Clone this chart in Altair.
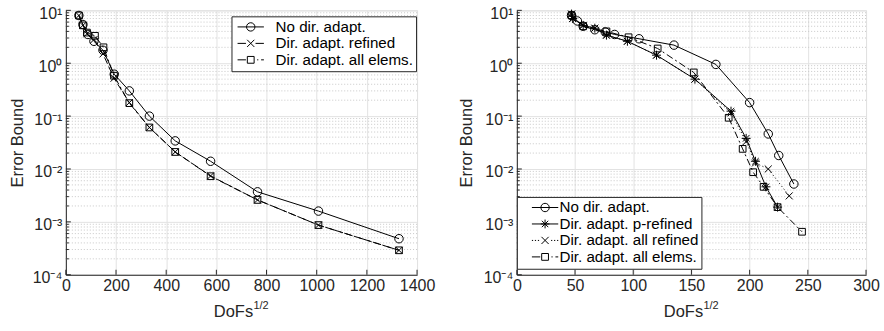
import altair as alt
import pandas as pd

# ---------------- data ----------------
# Left panel
L_NODIR_X = [52, 68, 88, 112, 148, 193, 253, 333, 436, 577, 764, 1007, 1328]
L_NODIR_Y = [8.0, 5.4, 3.5, 2.6, 1.76, 0.62, 0.30, 0.10, 0.034, 0.014, 0.0037, 0.0016, 0.00048]
L_REF_X = [52, 68, 84, 112, 148, 192, 253, 333, 436, 577, 764, 1007, 1328]
L_REF_Y = [8.0, 5.2, 3.6, 2.8, 1.5, 0.52, 0.18, 0.061, 0.021, 0.0074, 0.0026, 0.00087, 0.00029]
L_ALL_X = [52, 68, 84, 116, 150, 192, 253, 333, 436, 577, 764, 1007, 1328]
L_ALL_Y = [8.0, 5.2, 3.8, 3.3, 2.0, 0.58, 0.176, 0.061, 0.021, 0.0073, 0.0026, 0.00087, 0.00029]

# Right panel
R_NODIR_X = [47, 52, 57, 67, 76, 84, 105, 135, 171, 200, 216, 225, 238]
R_NODIR_Y = [8.0, 6.3, 5.0, 4.3, 3.9, 3.5, 2.9, 2.2, 0.95, 0.18, 0.046, 0.018, 0.0052]
R_PREF_X = [47, 48, 57, 67, 77, 95, 120, 153, 184, 197, 205, 214, 224]
R_PREF_Y = [8.5, 7.0, 5.2, 4.6, 3.4, 2.6, 1.42, 0.50, 0.124, 0.038, 0.014, 0.0046, 0.0019]
R_AREF_X = [47, 48, 57, 67, 77, 95, 120, 153, 184, 197, 205, 216, 234]
R_AREF_Y = [8.5, 7.0, 5.2, 4.6, 3.4, 2.6, 1.42, 0.50, 0.115, 0.033, 0.013, 0.010, 0.0031]
R_ALL_X = [47, 57, 77, 96, 121, 152, 182, 194, 203, 212, 224, 245]
R_ALL_Y = [8.0, 5.0, 4.0, 3.1, 1.9, 0.67, 0.093, 0.024, 0.0087, 0.0046, 0.0019, 0.00065]

L_NAMES = ["No dir. adapt.", "Dir. adapt. refined", "Dir. adapt. all elems."]
R_NAMES = ["No dir. adapt. ", "Dir. adapt. p-refined", "Dir. adapt. all refined", "Dir. adapt. all elems. "]

L_XTICKS = [0, 200, 400, 600, 800, 1000, 1200, 1400]
R_XTICKS = [0, 50, 100, 150, 200, 250, 300]
Y_TICKS = [1e-4, 1e-3, 1e-2, 1e-1, 1, 10]
Y_TICK_LABELS = ["10⁻⁴", "10⁻³", "10⁻²", "10⁻¹", "10⁰", "10¹"]
Y_MINOR = [m * 10.0 ** k for k in range(-4, 1) for m in range(2, 10)]

# ---------------- styles ----------------
FONT = "Liberation Sans"
AX = "#262626"
GRID = "#e2e2e2"
MINOR = "#c8c8c8"
W_L, W_R, H = 352, 350, 265

X_PATH = "M-1,-1L1,1M-1,1L1,-1"
AST_PATH = "M-1,0L1,0M0,-1L0,1M-0.72,-0.72L0.72,0.72M-0.72,0.72L0.72,-0.72"


# legend glyphs (line + marker); unit = 4px; glyph starts at x = s0 (never left of 0)
def leg_glyph(line, marker, s0):
    c = s0 + 3.3  # marker centre
    f = lambda v: round(v, 3)
    segs = {
        "solid": [(0, 6.6)],
        "dash": [(0, 2.1), (4.5, 6.6)],
        "dashdot": [(0, 2.1), (4.9, 5.2), (5.9, 6.6)],
        "dot": [(0, 0.3), (0.75, 1.05), (1.5, 1.8), (4.8, 5.1), (5.55, 5.85), (6.3, 6.6)],
    }[line]
    p = "".join(f"M{f(s0 + a)},0L{f(s0 + b)},0" for a, b in segs)
    if marker == "circle":
        r = 1.05
        p += f"M{f(c + r)},0A{r},{r} 0 1,1 {f(c - r)},0A{r},{r} 0 1,1 {f(c + r)},0"
    elif marker == "x":
        d = 0.9
        p += f"M{f(c - d)},{-d}L{f(c + d)},{d}M{f(c - d)},{d}L{f(c + d)},{-d}"
    elif marker == "square":
        d = 0.85
        p += f"M{f(c - d)},{-d}L{f(c + d)},{-d}L{f(c + d)},{d}L{f(c - d)},{d}Z"
    elif marker == "star":
        d, e = 1.1, 0.8
        p += (f"M{f(c - d)},0L{f(c + d)},0M{f(c)},{-d}L{f(c)},{d}"
              f"M{f(c - e)},{-e}L{f(c + e)},{e}M{f(c - e)},{e}L{f(c + e)},{-e}")
    return p


label_expr = " : ".join(
    f"datum.value >= {v * 0.5} ? '{t}'" for v, t in zip(reversed(Y_TICKS[1:]), reversed(Y_TICK_LABELS[1:]))
) + f" : '{Y_TICK_LABELS[0]}'"


def panel(series, names, leg_paths, field, xdom, xticks, width, ytitle_x, legend_kw):
    xscale = alt.Scale(domain=xdom, nice=False, zero=False)
    yscale = alt.Scale(type="log", domain=[1e-4, 10], nice=False)
    xaxis = alt.Axis(values=xticks, grid=True, gridColor=GRID, gridWidth=1, ticks=False, tickSize=0,
                     domainColor=AX, labelFont=FONT, labelFontSize=16, labelColor=AX, labelPadding=3,
                     labelOverlap=False, labelFlush=False, format="d", title="DoFs", titleFont=FONT,
                     titleFontSize=16.5, titleFontWeight="normal", titleColor=AX,
                     titleX=width / 2 - 8.5, titleY=37, titleBaseline="middle")
    yaxis = alt.Axis(values=Y_TICKS, labelExpr=label_expr, grid=True, gridColor=GRID, gridWidth=1,
                     ticks=False, tickSize=0, domainColor=AX, labelFont=FONT, labelFontSize=16,
                     labelColor=AX, labelPadding=4, labelOffset=3, labelOverlap=False, labelFlush=False,
                     title="Error Bound", titleFont=FONT,
                     titleFontSize=16.5, titleFontWeight="normal", titleColor=AX,
                     titleX=ytitle_x, titleY=H / 2, titleBaseline="middle")
    X = lambda f: alt.X(f, scale=xscale, axis=xaxis)
    Y = lambda f: alt.Y(f, scale=yscale, axis=yaxis)

    layers = []
    minor = pd.DataFrame({"v": Y_MINOR})
    major = pd.DataFrame({"v": Y_TICKS})
    xt = pd.DataFrame({"v": xticks})
    layers.append(alt.Chart(minor).mark_rule(color=MINOR, strokeDash=[1, 2], strokeWidth=1).encode(y=Y("v:Q")))
    layers.append(alt.Chart(minor).mark_rule(color=AX, strokeWidth=1).encode(
        y=Y("v:Q"), x=alt.value(0), x2=alt.value(3)))
    layers.append(alt.Chart(major).mark_rule(color=AX, strokeWidth=1).encode(
        y=Y("v:Q"), x=alt.value(0), x2=alt.value(5)))
    layers.append(alt.Chart(xt).mark_rule(color=AX, strokeWidth=1).encode(
        x=X("v:Q"), y=alt.value(H), y2=alt.value(H - 5)))

    for xs, ys, dash, shape, size in series:
        df = pd.DataFrame({"x": xs, "y": ys})
        lkw = dict(color="black", strokeWidth=1)
        if dash:
            lkw["strokeDash"] = dash
        layers.append(alt.Chart(df).mark_line(**lkw).encode(x=X("x:Q"), y=Y("y:Q"), order="x:Q"))
        layers.append(alt.Chart(df).mark_point(shape=shape, size=size, filled=False, color="black",
                                               strokeWidth=1, opacity=1).encode(x=X("x:Q"), y=Y("y:Q")))

    leg = pd.DataFrame({field: names})
    legend = alt.Legend(orient="none", direction="vertical", fillColor="white", strokeColor=AX,
                        padding=3, rowPadding=0.5, symbolSize=64, symbolStrokeWidth=1,
                        symbolStrokeColor="black", symbolFillColor="transparent", symbolOpacity=1,
                        symbolOffset=-4.5, labelFont=FONT, labelFontSize=15.2, labelColor="black",
                        labelLimit=400, **legend_kw)
    layers.append(alt.Chart(leg).mark_point(filled=False, color="black").encode(
        shape=alt.Shape(f"{field}:N", title=None, scale=alt.Scale(domain=names, range=leg_paths),
                        legend=legend)).transform_filter("false"))

    sup = pd.DataFrame({"t": ["1/2"]})
    layers.append(alt.Chart(sup).mark_text(align="left", baseline="middle", font=FONT, fontSize=11,
                                           color=AX).encode(text="t:N", x=alt.value(width / 2 + 12),
                                                            y=alt.value(296)))
    return alt.layer(*layers).properties(width=width, height=H)


left_series = [
    (L_NODIR_X, L_NODIR_Y, None, "circle", 72),
    (L_REF_X, L_REF_Y, [7, 3], X_PATH, 49),
    (L_ALL_X, L_ALL_Y, [7, 3, 2, 3], "square", 45),
]
right_series = [
    (R_NODIR_X, R_NODIR_Y, None, "circle", 72),
    (R_PREF_X, R_PREF_Y, None, AST_PATH, 81),
    (R_AREF_X, R_AREF_Y, [1, 2.5], X_PATH, 49),
    (R_ALL_X, R_ALL_Y, [7, 3, 2, 3], "square", 45),
]
left_leg = [leg_glyph("solid", "circle", 0), leg_glyph("dash", "x", 0), leg_glyph("dashdot", "square", 0)]
right_leg = [leg_glyph("solid", "circle", 2.25), leg_glyph("solid", "star", 2.25),
             leg_glyph("dot", "x", 2.25), leg_glyph("dashdot", "square", 2.25)]

left = panel(left_series, L_NAMES, left_leg, "method_left", [0, 1400], L_XTICKS, W_L, -48,
             dict(legendX=166, legendY=6, labelOffset=30.5))
right = panel(right_series, R_NAMES, right_leg, "method_right", [0, 300], R_XTICKS, W_R, -50,
              dict(legendX=0, legendY=187, labelOffset=29))

chart = alt.hconcat(left, right, spacing=100, bounds="flush").resolve_scale(
    shape="independent").resolve_legend(shape="independent").properties(
    padding={"left": 9, "top": 4, "right": 4, "bottom": 10}
).configure_view(stroke=None).configure(font=FONT)

chart.save("out.html", embed_options={"renderer": "svg", "actions": False})
